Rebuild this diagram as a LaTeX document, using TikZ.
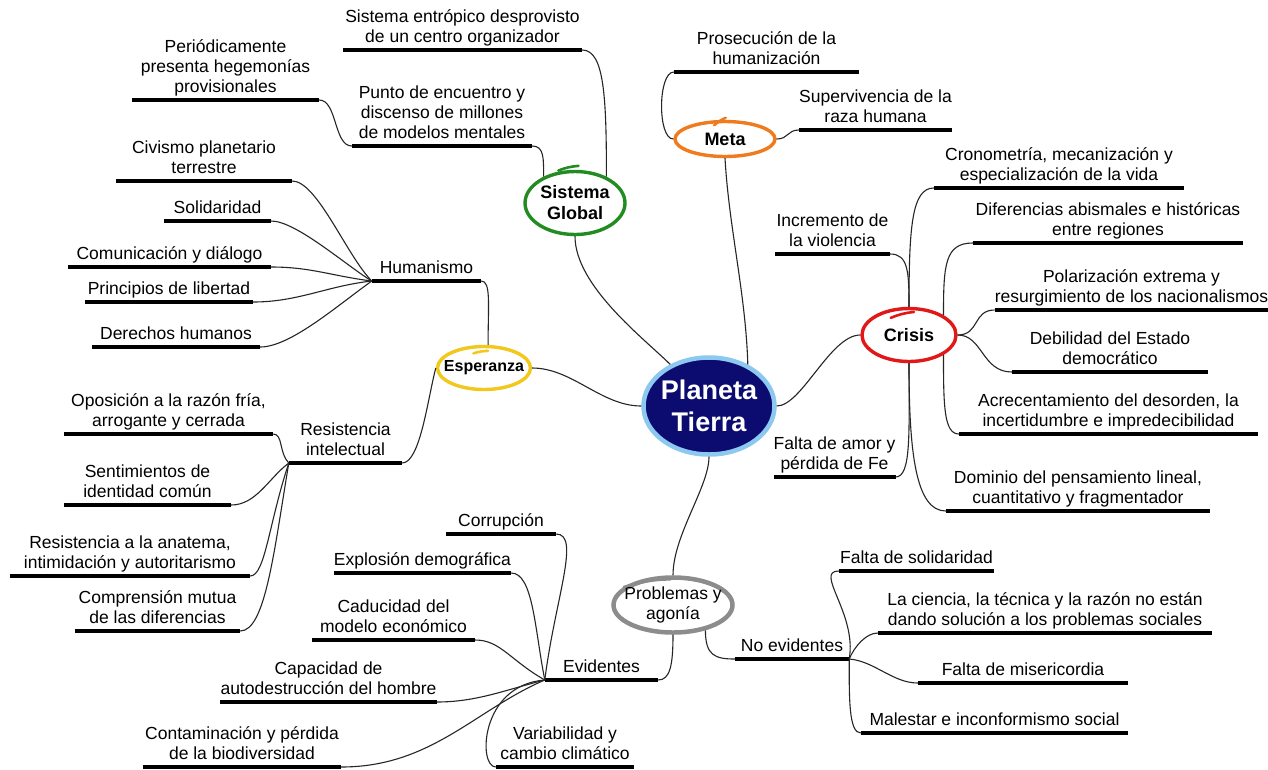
\documentclass[tikz,border=0pt]{standalone}
\usepackage{fontspec}
\setmainfont{Liberation Sans}
\usepackage{xcolor}
\usepackage{tikz}
\usetikzlibrary{shapes.geometric}

\definecolor{verde}{RGB}{34,140,34}
\definecolor{naranja}{RGB}{240,122,30}
\definecolor{rojo}{RGB}{226,24,24}
\definecolor{amarillo}{RGB}{242,200,30}
\definecolor{gris}{RGB}{140,140,140}
\definecolor{marino}{RGB}{12,12,112}
\definecolor{celeste}{RGB}{140,200,240}

\begin{document}
\begin{tikzpicture}[x=1pt, y=1pt,
  font=\fontsize{17.5}{20}\selectfont,
  leaf/.style={align=center, inner xsep=0pt, inner ysep=3pt, text depth=4pt,
               anchor=south},
  topic/.style={ellipse, draw=#1, fill=white, line width=3.4pt, inner sep=0pt,
               align=center, font=\fontsize{18}{21}\selectfont\bfseries},
  bar/.style={line width=3.2pt, black},
  link/.style={line width=1.1pt, black!85},
  flourish/.style={line width=2.6pt, line cap=round}]

%% lienzo: 1268 x 769, origen arriba a la izquierda, y hacia abajo negativa
\fill[white] (0,0) rectangle (1268,-769);
\useasboundingbox (0,0) rectangle (1268,-769);

%% ---- centro y ramas principales ----
\node[ellipse, draw=celeste, fill=marino, line width=4.5pt,
      minimum width=131pt, minimum height=97pt, inner xsep=-6pt, inner ysep=0pt,
      align=center, text=white, font=\fontsize{27}{32}\selectfont\bfseries]
  (tierra) at (709,-406) {Planeta\\Tierra};

\node[topic=verde, minimum width=100pt, minimum height=63pt] (sistema) at (575,-203)
  {Sistema\\Global};
\node[topic=naranja, minimum width=100pt, minimum height=35pt] (meta) at (725,-139)
  {Meta};
\node[topic=rojo, minimum width=94pt, minimum height=53pt] (crisis) at (909,-335)
  {Crisis};
\node[topic=amarillo, minimum width=93pt, minimum height=43pt, inner xsep=-8pt,
      font=\fontsize{16}{19}\selectfont\bfseries] (esperanza) at (484,-368)
  {Esperanza};
\node[topic=gris, line width=4.5pt, minimum width=119pt, minimum height=55pt,
      inner xsep=-10pt, font=\fontsize{17.5}{20}\selectfont] (problemas) at (673,-605)
  {Problemas y\\agonía};

% trazo de pluma que cierra cada óvalo (ángulos de inicio/fin y desplazamientos)
\foreach \n/\c/\a/\b/\p/\q in {sistema/verde/118/84/1/4, meta/naranja/120/88/-5/2,
    crisis/rojo/125/80/-9/-5, esperanza/amarillo/115/80/-8/-6,
    problemas/gris/160/95/0/-4}
  \draw[flourish, \c] ([yshift=\p pt]\n.\a) to[bend left=8] ([yshift=\q pt]\n.\b);

%% ---- Sistema global ----
\node[leaf, minimum width=239pt] (entropico) at (462.5,-50)
  {Sistema entrópico desprovisto\\de un centro organizador};
\node[leaf, minimum width=180pt] (encuentro) at (442,-146)
  {Punto de encuentro y\\discenso de millones\\de modelos mentales};
\node[leaf, minimum width=187pt] (hegemonias) at (225.5,-100)
  {Periódicamente\\presenta hegemonías\\provisionales};

%% ---- Meta ----
\node[leaf, minimum width=185pt] (humanizacion) at (766.5,-72)
  {Prosecución de la\\humanización};
\node[leaf, minimum width=149pt] (supervivencia) at (875.5,-130)
  {Supervivencia de la\\raza humana};

%% ---- Crisis ----
\node[leaf, minimum width=115pt] (violencia) at (832.5,-254)
  {Incremento de\\la violencia};
\node[leaf, minimum width=250pt] (cronometria) at (1059,-188)
  {Cronometría, mecanización y\\especialización de la vida};
\node[leaf, minimum width=270pt] (diferencias) at (1108,-243)
  {Diferencias abismales e históricas\\entre regiones};
\node[leaf, minimum width=267pt] (polarizacion) at (1131.5,-310)
  {Polarización extrema y\\resurgimiento de los nacionalismos};
\node[leaf, minimum width=196pt] (debilidad) at (1110,-372)
  {Debilidad del Estado\\democrático};
\node[leaf, minimum width=299pt] (desorden) at (1108.5,-434)
  {Acrecentamiento del desorden, la\\incertidumbre e impredecibilidad};
\node[leaf, minimum width=117pt] (amor) at (834.5,-477)
  {Falta de amor y\\pérdida de Fe};
\node[leaf, minimum width=264pt] (dominio) at (1078,-511)
  {Dominio del pensamiento lineal,\\cuantitativo y fragmentador};

%% ---- Esperanza ----
\node[leaf, minimum width=109pt] (humanismo) at (426.5,-281) {Humanismo};
\node[leaf, minimum width=176pt] (civismo) at (204,-181)
  {Civismo planetario\\terrestre};
\node[leaf, minimum width=107pt] (solidaridad) at (217.5,-221) {Solidaridad};
\node[leaf, minimum width=203pt] (dialogo) at (169.5,-267) {Comunicación y diálogo};
\node[leaf, minimum width=168pt] (libertad) at (169,-302) {Principios de libertad};
\node[leaf, minimum width=168pt] (derechos) at (176,-347) {Derechos humanos};

\node[leaf, minimum width=113pt] (resistencia) at (345.5,-463)
  {Resistencia\\intelectual};
\node[leaf, minimum width=209pt] (oposicion) at (168.5,-434)
  {Oposición a la razón fría,\\arrogante y cerrada};
\node[leaf, minimum width=167pt] (identidad) at (147.5,-505)
  {Sentimientos de\\identidad común};
\node[leaf, minimum width=240pt] (anatema) at (130,-576)
  {Resistencia a la anatema,\\intimidación y autoritarismo};
\node[leaf, minimum width=165pt] (comprension) at (157.5,-631)
  {Comprensión mutua\\de las diferencias};

%% ---- Problemas y agonía ----
\node[leaf, minimum width=113pt] (evidentes) at (601.5,-680) {Evidentes};
\node[leaf, minimum width=110pt] (corrupcion) at (501,-534) {Corrupción};
\node[leaf, minimum width=169pt] (demografia) at (422.5,-573) {Explosión demográfica};
\node[leaf, minimum width=163pt] (caducidad) at (393.5,-640)
  {Caducidad del\\modelo económico};
\node[leaf, minimum width=215pt] (autodestruccion) at (328.5,-702)
  {Capacidad de\\autodestrucción del hombre};
\node[leaf, minimum width=198pt] (contaminacion) at (242,-767)
  {Contaminación y pérdida\\de la biodiversidad};
\node[leaf, minimum width=138pt] (clima) at (565,-767)
  {Variabilidad y\\cambio climático};

\node[leaf, minimum width=114pt] (noevidentes) at (792,-659) {No evidentes};
\node[leaf, minimum width=155pt] (faltasol) at (916.5,-571) {Falta de solidaridad};
\node[leaf, minimum width=334pt] (ciencia) at (1045,-633)
  {La ciencia, la técnica y la razón no están\\dando solución a los problemas sociales};
\node[leaf, minimum width=210pt] (misericordia) at (1023,-683) {Falta de misericordia};
\node[leaf, minimum width=267pt] (malestar) at (994.5,-733)
  {Malestar e inconformismo social};

% subrayado grueso de cada rótulo
\foreach \n in {entropico, encuentro, hegemonias, humanizacion, supervivencia,
                violencia, cronometria, diferencias, polarizacion, debilidad,
                desorden, amor, dominio, humanismo, civismo, solidaridad, dialogo,
                libertad, derechos, resistencia, oposicion, identidad, anatema,
                comprension, evidentes, corrupcion, demografia, caducidad,
                autodestruccion, contaminacion, clima, noevidentes, faltasol,
                ciencia, misericordia, malestar}
  \draw[bar] (\n.south west) -- (\n.south east);

%% ---- conectores ----
\draw[link] (tierra.133) .. controls +(-25,25) and +(0,-50) .. (sistema.south);
\draw[link] (tierra.47) .. controls +(-2,70) and +(4,-70) .. (meta.south);
\draw[link] (tierra.east) .. controls +(25,0) and +(-30,0) .. (crisis.west);
\draw[link] (tierra.west) .. controls +(-40,0) and +(40,0) .. (esperanza.east);
\draw[link] (tierra.south) .. controls +(0,-30) and +(0,40) .. (problemas.north);

\draw[link] (entropico.south east) .. controls +(22,0) and +(0,80) .. (sistema.40);
\draw[link] (encuentro.south east) .. controls +(12,0) and +(0,18) .. (sistema.140);
\draw[link] (hegemonias.south east) .. controls +(18,0) and +(-18,0) .. (encuentro.south west);

\draw[link] (humanizacion.south west) .. controls +(-16,0) and +(-16,0) .. (meta.west);
\draw[link] (meta.east) .. controls +(12,0) and +(-12,0) .. (supervivencia.south west);

\draw[link] (violencia.south east) .. controls +(18,0) and +(0,35) .. (crisis.north);
\draw[link] (cronometria.south west) .. controls +(-22,0) and +(0,80) .. (crisis.north);
\draw[link] (diferencias.south west) .. controls +(-28,0) and +(0,50) .. (crisis.30);
\draw[link] (polarizacion.south west) .. controls +(-22,0) and +(22,0) .. (crisis.east);
\draw[link] (debilidad.south west) .. controls +(-30,0) and +(25,0) .. (crisis.east);
\draw[link] (desorden.south west) .. controls +(-15,0) and +(0,-50) .. (crisis.-30);
\draw[link] (amor.south east) .. controls +(16,0) and +(0,-70) .. (crisis.south);
\draw[link] (dominio.south west) .. controls +(-30,0) and +(0,-90) .. (crisis.south);

\draw[link] (humanismo.south east) .. controls +(10,0) and +(0,40) .. (esperanza.80);
\draw[link] (resistencia.south east) .. controls +(18,0) and +(-8,-30) .. (esperanza.west);
\draw[link] (civismo.south east) .. controls +(25,0) and +(-25,25) .. (humanismo.south west);
\draw[link] (solidaridad.south east) .. controls +(25,0) and +(-25,15) .. (humanismo.south west);
\draw[link] (dialogo.south east) .. controls +(40,0) and +(-40,5) .. (humanismo.south west);
\draw[link] (libertad.south east) .. controls +(45,0) and +(-45,-5) .. (humanismo.south west);
\draw[link] (derechos.south east) .. controls +(30,0) and +(-35,-25) .. (humanismo.south west);
\draw[link] (oposicion.south east) .. controls +(10,0) and +(-10,10) .. (resistencia.south west);
\draw[link] (identidad.south east) .. controls +(25,0) and +(-20,-15) .. (resistencia.south west);
\draw[link] (anatema.south east) .. controls +(15,0) and +(-20,-60) .. (resistencia.south west);
\draw[link] (comprension.south east) .. controls +(25,0) and +(-15,-90) .. (resistencia.south west);

\draw[link] (problemas.south) .. controls +(0,-30) and +(12,0) .. (evidentes.south east);
\draw[link] (problemas.-38) .. controls +(0,-25) and +(-20,0) .. (noevidentes.south west);
\draw[link] (corrupcion.south east) .. controls +(25,0) and +(10,80) .. (evidentes.south west);
\draw[link] (demografia.south east) .. controls +(22,0) and +(-10,50) .. (evidentes.south west);
\draw[link] (caducidad.south east) .. controls +(25,0) and +(-35,20) .. (evidentes.south west);
\draw[link] (autodestruccion.south east) .. controls +(40,0) and +(-40,-10) .. (evidentes.south west);
\draw[link] (contaminacion.south east) .. controls +(90,0) and +(-70,-30) .. (evidentes.south west);
\draw[link] (clima.south west) .. controls +(-18,0) and +(-65,-5) .. (evidentes.south west);
\draw[link] (faltasol.south west) .. controls +(-25,0) and +(8,45) .. (noevidentes.south east);
\draw[link] (ciencia.south west) .. controls +(-12,0) and +(5,12) .. (noevidentes.south east);
\draw[link] (misericordia.south west) .. controls +(-25,0) and +(25,-2) .. (noevidentes.south east);
\draw[link] (malestar.south west) .. controls +(-12,0) and +(0,-40) .. (noevidentes.south east);
\end{tikzpicture}
\end{document}
